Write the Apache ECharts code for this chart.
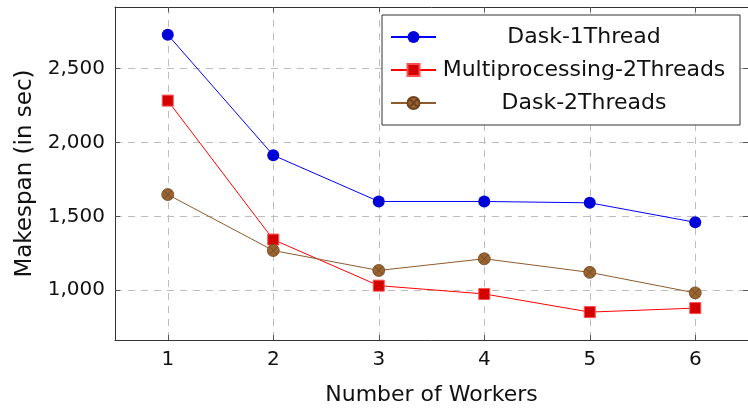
<!DOCTYPE html>
<html><head><meta charset="utf-8">
<script src="https://cdn.jsdelivr.net/npm/echarts@6/dist/echarts.min.js"></script>
<style>html,body{margin:0;padding:0;background:#fff}#c{width:748px;height:411px}</style>
</head><body><div id="c"></div>
<script>
const workers = [1, 2, 3, 4, 5, 6];
const dask1Thread = [2730, 1914, 1601, 1601, 1592, 1460];
const mp2Threads = [2284, 1343, 1031, 975, 852, 879];
const dask2Threads = [1648, 1269, 1134, 1213, 1121, 982];
const yTicks = [1000, 1500, 2000, 2500];
const xTicks = [1, 2, 3, 4, 5, 6];
const seriesNames = ['Dask-1Thread', 'Multiprocessing-2Threads', 'Dask-2Threads'];

const FONT = 'DejaVu Sans';
const pairs = arr => workers.map((w, i) => [w, arr[i]]);
const fmt = v => String(v).replace(/\B(?=(\d{3})+(?!\d))/g, ',');
const otimes = 'path://M10,0A10,10 0 1,1 9.999,0Z M2.93,2.93L17.07,17.07M17.07,2.93L2.93,17.07';

const gridLine = {show: true, lineStyle: {color: '#bdbdbd', type: [7, 6], width: 1}};
const axLine = {show: true, lineStyle: {color: '#333', width: 1}};
const tick = {show: true, inside: true, length: 5, lineStyle: {color: '#555'}};

const chart = echarts.init(document.getElementById('c'), null, {renderer: 'canvas'});
chart.setOption({
  animation: false,
  textStyle: {fontFamily: FONT},
  grid: {left: 115, top: 7, right: -4, bottom: 69, containLabel: false},
  xAxis: [{
    type: 'value', min: 0.5, max: 6.5,
    name: 'Number of Workers', nameLocation: 'middle', nameGap: 44,
    nameTextStyle: {fontFamily: FONT, fontSize: 22, color: '#111'},
    axisLine: axLine,
    axisTick: Object.assign({customValues: xTicks}, tick),
    axisLabel: {customValues: xTicks, fontFamily: FONT, fontSize: 20, color: '#111', margin: 10},
    splitLine: gridLine
  }, {
    type: 'value', min: 0.5, max: 6.5, position: 'top',
    axisLine: axLine,
    axisTick: Object.assign({customValues: xTicks}, tick),
    axisLabel: {show: false}, splitLine: {show: false}
  }],
  yAxis: [{
    type: 'value', min: 663, max: 2918,
    name: 'Makespan (in sec)', nameLocation: 'middle', nameGap: 78,
    nameTextStyle: {fontFamily: FONT, fontSize: 23, color: '#111', padding: [0, 0, 0, 0]},
    axisLine: axLine,
    axisTick: Object.assign({customValues: yTicks}, tick),
    axisLabel: {customValues: yTicks, formatter: fmt, fontFamily: FONT, fontSize: 20, color: '#111', margin: 10},
    splitLine: gridLine
  }, {
    type: 'value', min: 663, max: 2918, position: 'right',
    axisLine: axLine,
    axisTick: Object.assign({customValues: yTicks}, tick),
    axisLabel: {show: false}, splitLine: {show: false}
  }],
  legend: {
    orient: 'vertical', left: 382, top: 15,
    padding: [10, 13, 10, 8], itemGap: 9, itemWidth: 45, itemHeight: 15,
    backgroundColor: '#fff', borderColor: '#333', borderWidth: 1,
    data: seriesNames,
    formatter: n => '{t|' + n + '}',
    textStyle: {
      fontFamily: FONT, fontSize: 22, color: '#111',
      rich: {t: {width: 286, height: 24, lineHeight: 24, align: 'center', fontFamily: FONT, fontSize: 22, color: '#111'}}
    }
  },
  series: [{
    name: seriesNames[0], type: 'line', data: pairs(dask1Thread),
    symbol: 'circle', symbolSize: 12,
    lineStyle: {color: '#0000ff', width: 1},
    itemStyle: {color: '#0000d8', borderColor: '#0000d8', borderWidth: 0}
  }, {
    name: seriesNames[1], type: 'line', data: pairs(mp2Threads),
    symbol: 'rect', symbolSize: 11,
    lineStyle: {color: '#ff0000', width: 1},
    itemStyle: {color: '#d40000', borderColor: '#ff5050', borderWidth: 1}
  }, {
    name: seriesNames[2], type: 'line', data: pairs(dask2Threads),
    symbol: otimes, symbolSize: 12,
    lineStyle: {color: '#8f5a2c', width: 1},
    itemStyle: {color: '#9a6430', borderColor: '#6e4420', borderWidth: 0.8}
  }]
});
</script></body></html>
